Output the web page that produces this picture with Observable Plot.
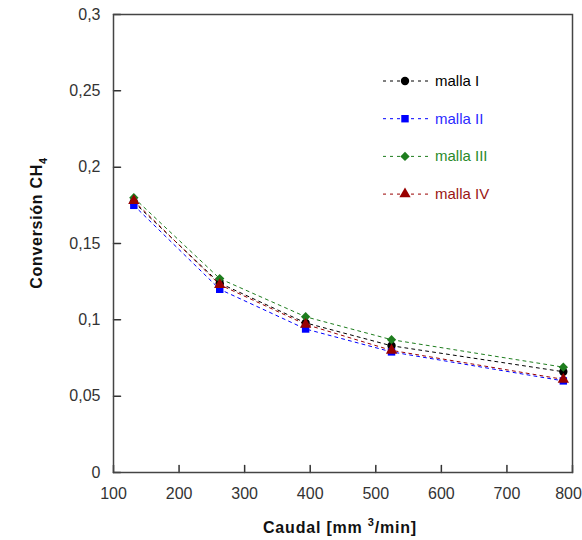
<!DOCTYPE html>
<html>
<head>
<meta charset="utf-8">
<script src="https://cdn.jsdelivr.net/npm/d3@7"></script>
<script src="https://cdn.jsdelivr.net/npm/@observablehq/plot@0.6"></script>
<style>
  html, body { margin: 0; padding: 0; background: #fff; }
  #chart svg { display: block; }
</style>
</head>
<body>
<div id="chart"></div>
<script>
// ---- data ----
const caudal = [131, 262, 393, 524, 786];
const mallaI   = [0.177, 0.124, 0.098, 0.083, 0.066];
const mallaII  = [0.175, 0.120, 0.094, 0.079, 0.060];
const mallaIII = [0.180, 0.127, 0.102, 0.087, 0.069];
const mallaIV  = [0.178, 0.123, 0.097, 0.080, 0.061];
const seriesNames = ["malla I", "malla II", "malla III", "malla IV"];
const seriesValues = [mallaI, mallaII, mallaIII, mallaIV];
const seriesColors = ["#000000", "#0000ff", "#1e7d1e", "#990000"];
const textColors = ["#000000", "#2b2bff", "#2a8a2a", "#9a1515"];
const seriesSymbols = ["circle", "square", "diamond2", "triangle"];
const xTicks = [100, 200, 300, 400, 500, 600, 700, 800];
const yTicks = [0, 0.05, 0.1, 0.15, 0.2, 0.25, 0.3];

const rows = seriesNames.flatMap((s, i) =>
  caudal.map((c, j) => ({series: s, caudal: c, conv: seriesValues[i][j]})));

const fontFamily = "'Liberation Sans', Arial, sans-serif";
const tickShape = {draw(context, l) { context.moveTo(0, 0); context.lineTo(0, -l); }};

const chart = Plot.plot({
  width: 582,
  height: 540,
  marginLeft: 113,
  marginRight: 10,
  marginTop: 14,
  marginBottom: 68,
  style: {fontFamily, fontSize: "16px", background: "#fff", overflow: "visible"},
  x: {domain: [100, 800]},
  y: {domain: [0, 0.3]},
  color: {domain: seriesNames, range: seriesColors},
  symbol: {domain: seriesNames, range: seriesSymbols},
  marks: [
    Plot.axisX({ticks: xTicks.slice(0, -1), tickSize: 0, tickPadding: 15, label: null, fill: "#333"}),
    Plot.axisX({ticks: xTicks.slice(-1), tickSize: 0, tickPadding: 15, label: null, fill: "#333", dx: -4}),
    Plot.axisY({ticks: yTicks, tickSize: 0, tickPadding: 13, label: null, fill: "#333",
      tickFormat: d => String(d).replace(".", ",")}),
    Plot.vector(xTicks, {x: d => d, frameAnchor: "bottom", rotate: 0, length: 7, anchor: "start", shape: tickShape, stroke: "#333", strokeWidth: 1.5}),
    Plot.vector(yTicks, {y: d => d, frameAnchor: "left", rotate: 90, length: 7, anchor: "start", shape: tickShape, stroke: "#333", strokeWidth: 1.5}),
    Plot.frame({stroke: "#444", strokeWidth: 1.5}),
    Plot.line(rows, {x: "caudal", y: "conv", z: "series", stroke: "series", strokeWidth: 1, strokeDasharray: "3,4"}),
    Plot.dot(rows, {x: "caudal", y: "conv", fill: "series", symbol: "series", r: 4.2, stroke: null})
  ]
});

document.getElementById("chart").appendChild(chart);

// ---- titles ----
const svg = d3.select(chart);
const yt = svg.append("text")
  .attr("transform", "translate(42,223) rotate(-90)")
  .attr("text-anchor", "middle")
  .attr("font-family", fontFamily)
  .attr("font-size", 16)
  .attr("font-weight", "bold")
  .attr("letter-spacing", 0.7)
  .attr("fill", "#111");
yt.append("tspan").text("Conversión CH");
yt.append("tspan").attr("font-size", 11).attr("dy", 5).text("4");

const xt = svg.append("text")
  .attr("x", 340).attr("y", 533)
  .attr("text-anchor", "middle")
  .attr("font-family", fontFamily)
  .attr("font-size", 16)
  .attr("font-weight", "bold")
  .attr("letter-spacing", 0.8)
  .attr("fill", "#111");
xt.append("tspan").text("Caudal [mm ");
xt.append("tspan").attr("font-size", 11).attr("dy", -7).text("3");
xt.append("tspan").attr("dy", 7).text("/min]");

// ---- legend ----
const symbolMap = {circle: d3.symbolCircle, square: d3.symbolSquare, diamond2: d3.symbolDiamond2, triangle: d3.symbolTriangle};
const legendTop = 81, legendStep = 37.7;
const lg = svg.append("g").attr("text-anchor", "start");
seriesNames.forEach((s, i) => {
  const y = legendTop + i * legendStep;
  lg.append("line").attr("x1", 383).attr("x2", 428).attr("y1", y).attr("y2", y)
    .attr("stroke", seriesColors[i]).attr("stroke-width", 1).attr("stroke-dasharray", "3,4");
  lg.append("path").attr("transform", `translate(405,${y})`)
    .attr("d", d3.symbol(symbolMap[seriesSymbols[i]], Math.PI * 4.2 * 4.2)())
    .attr("fill", seriesColors[i]);
  lg.append("text").attr("x", 435).attr("y", y + 5)
    .attr("text-anchor", "start")
    .attr("font-family", fontFamily).attr("font-size", 15)
    .attr("fill", textColors[i]).text(s);
});
</script>
</body>
</html>
